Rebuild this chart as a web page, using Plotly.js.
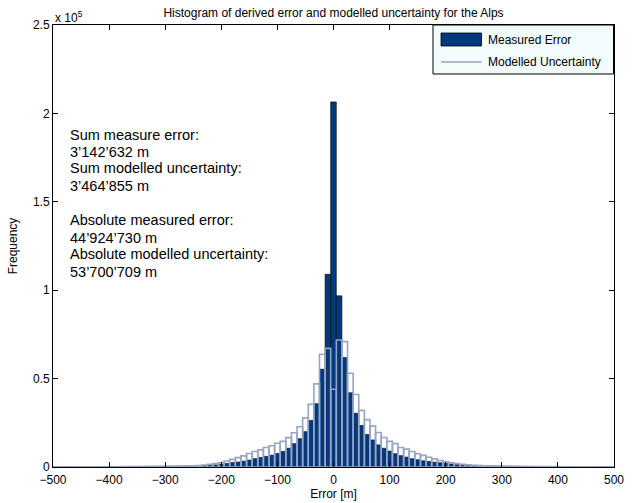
<!DOCTYPE html>
<html>
<head>
<meta charset="utf-8">
<script src="https://cdn.plot.ly/plotly-3.0.1.min.js"></script>
<style>html,body{margin:0;padding:0;background:#fff;}#chart{width:638px;height:503px;}</style>
</head>
<body>
<div id="chart"></div>
<script>
// Bin centres (m), bin width 10 m
const binCenters = [];
for (let c = -500; c <= 500; c += 10) binCenters.push(c);

// Measured error counts per bin (from -500 to 500)
const measuredError = [
  80, 90, 100, 110, 120, 130, 140, 150, 160, 170,
  180, 190, 200, 220, 240, 260, 280, 300, 320, 340,
  360, 380, 410, 450, 500, 550, 620, 800, 1000, 1200,
  1600, 2000, 2500, 2800, 3300, 3900, 4700, 5400, 6000, 6700,
  7600, 8800, 10600, 13200, 16000, 20000, 26300, 35800, 55300, 109000,
  206500,
  96800, 61900, 42000, 30400, 23500, 18400, 15300, 12500, 10600, 9000,
  7500, 6400, 5600, 4700, 4100, 3500, 3100, 2700, 2400, 2100,
  1700, 1400, 1100, 900, 750, 650, 580, 520, 470, 430,
  390, 360, 330, 300, 280, 260, 240, 220, 200, 190,
  180, 170, 160, 150, 140, 130, 120, 110, 100, 90
];

// Modelled uncertainty counts per bin (from -500 to 500)
const modelledUncertainty = [
  50, 60, 70, 80, 90, 100, 110, 120, 130, 140,
  150, 170, 190, 210, 230, 250, 280, 310, 340, 370,
  400, 450, 500, 560, 630, 710, 800, 1100, 1500, 1900,
  2500, 3400, 4300, 5300, 6300, 7600, 8800, 9700, 11000, 12000,
  13400, 14500, 16600, 19400, 22800, 27800, 35400, 47000, 63800, 67100,
  44000,
  71800, 70900, 53000, 41000, 32000, 26800, 23100, 19500, 16700, 14500,
  13200, 11000, 10100, 8800, 7500, 6600, 5500, 4600, 3700, 3000,
  2400, 1900, 1500, 1200, 1000, 850, 720, 620, 540, 470,
  420, 380, 340, 310, 280, 250, 230, 210, 190, 170,
  155, 140, 125, 110, 100, 90, 80, 70, 60, 50
];

const xTicks = [-500, -400, -300, -200, -100, 0, 100, 200, 300, 400, 500];
const yTickVals = [0, 50000, 100000, 150000, 200000, 250000];
const yTickText = ['0', '0.5', '1', '1.5', '2', '2.5'];

const infoLines = [
  'Sum measure error:', '3’142’632 m',
  'Sum modelled uncertainty:', '3’464’855 m',
  '',
  'Absolute measured error:', '44’924’730 m',
  'Absolute modelled uncertainty:', '53’700’709 m'
];

const legendNames = ['Measured Error', 'Modelled Uncertainty'];

const darkBlue = '#03397c';
const lightEdge = '#96a5c3';
const FONT = 'Liberation Sans, Arial, Helvetica, sans-serif';

const traces = [
  {
    type: 'bar', x: binCenters, y: measuredError, width: 10,
    marker: {color: darkBlue, line: {color: '#000000', width: 0.6}},
    showlegend: false, hoverinfo: 'x+y'
  },
  {
    type: 'bar', x: binCenters, y: modelledUncertainty, width: 10,
    marker: {color: 'rgba(0,0,0,0)', line: {color: lightEdge, width: 1.6}},
    showlegend: false, hoverinfo: 'x+y'
  }
];

// Plot area in pixels: x 53..614, y 25..467
const L = 53, R = 614, T = 25, B = 467;
const px = v => (v - L) / (R - L);
const py = v => (B - v) / (B - T);

const annotations = [];
const lineY = [135, 152, 168, 186, 203, 220, 238, 254, 272];
infoLines.forEach((t, i) => {
  if (!t) return;
  annotations.push({
    xref: 'paper', yref: 'paper', x: px(68), y: py(lineY[i]),
    xanchor: 'left', yanchor: 'middle', text: t, showarrow: false,
    font: {family: FONT, size: 14.5, color: '#000'}
  });
});
// exponent label
annotations.push({
  xref: 'paper', yref: 'paper', x: px(53), y: py(17), xanchor: 'left', yanchor: 'middle',
  text: 'x 10<sup>5</sup>', showarrow: false, font: {family: FONT, size: 12, color: '#000'}
});
// legend texts
annotations.push({
  xref: 'paper', yref: 'paper', x: px(486), y: py(40), xanchor: 'left', yanchor: 'middle',
  text: legendNames[0], showarrow: false, font: {family: FONT, size: 12, color: '#000'}
});
annotations.push({
  xref: 'paper', yref: 'paper', x: px(486), y: py(62), xanchor: 'left', yanchor: 'middle',
  text: legendNames[1], showarrow: false, font: {family: FONT, size: 12, color: '#000'}
});

const shapes = [
  {type: 'rect', xref: 'paper', yref: 'paper', x0: px(433), x1: px(613.5), y0: py(74), y1: py(25),
   fillcolor: '#f3fcfc', line: {color: '#000', width: 1}, layer: 'above'},
  {type: 'rect', xref: 'paper', yref: 'paper', x0: px(441), x1: px(481.5), y0: py(46), y1: py(33),
   fillcolor: darkBlue, line: {color: '#000', width: 0.8}, layer: 'above'},
  {type: 'line', xref: 'paper', yref: 'paper', x0: px(441), x1: px(481.5), y0: py(62), y1: py(62),
   line: {color: lightEdge, width: 1.6}, layer: 'above'}
];

const layout = {
  width: 638, height: 503,
  margin: {l: L, r: 638 - R, t: T, b: 503 - B, pad: 0},
  paper_bgcolor: '#ffffff', plot_bgcolor: '#ffffff',
  barmode: 'overlay', bargap: 0,
  showlegend: false,
  font: {family: FONT, size: 12, color: '#000'},
  title: {
    text: 'Histogram of derived error and modelled uncertainty for the Alps',
    font: {family: FONT, size: 12, color: '#000'},
    x: 0.5, xref: 'paper', xanchor: 'center',
    y: 1 - 13 / 503, yref: 'container', yanchor: 'middle'
  },
  xaxis: {
    range: [-500, 500], tickvals: xTicks, ticks: 'inside', ticklen: 5, tickcolor: '#000',
    showline: true, linecolor: '#000', linewidth: 1, mirror: 'ticks', showgrid: false, zeroline: false,
    ticklabelstandoff: 2,
    tickfont: {family: FONT, size: 12, color: '#000'},
    title: {text: 'Error [m]', font: {family: FONT, size: 12, color: '#000'}, standoff: 1}
  },
  yaxis: {
    range: [0, 250000], tickvals: yTickVals, ticktext: yTickText, ticks: 'inside', ticklen: 5, tickcolor: '#000',
    showline: true, linecolor: '#000', linewidth: 1, mirror: 'ticks', showgrid: false, zeroline: false,
    tickfont: {family: FONT, size: 12, color: '#000'},
    title: {text: 'Frequency', font: {family: FONT, size: 12, color: '#000'}, standoff: 12}
  },
  annotations: annotations,
  shapes: shapes
};

Plotly.newPlot('chart', traces, layout, {staticPlot: true, displayModeBar: false});
</script>
</body>
</html>
